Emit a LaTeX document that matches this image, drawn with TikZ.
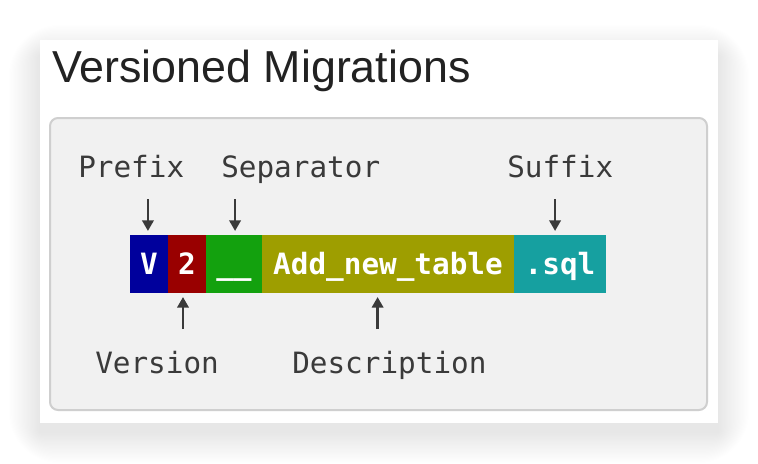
\documentclass[tikz,border=0pt]{standalone}
\usepackage{fontspec}
\setsansfont{Liberation Sans}
\setmonofont{DejaVu Sans Mono}
\usetikzlibrary{
  arrows.meta,
  positioning
}
\definecolor{migInk}{HTML}{3A3A3A}
\definecolor{migTitle}{HTML}{222222}
\definecolor{migPanel}{HTML}{F1F1F1}
\definecolor{migEdge}{HTML}{CFCFCF}
\definecolor{migBlue}{HTML}{00009C}
\definecolor{migRed}{HTML}{990000}
\definecolor{migGreen}{HTML}{13A10E}
\definecolor{migOlive}{HTML}{9E9E00}
\definecolor{migTeal}{HTML}{16A0A0}
\tikzset{
  every node/.style={font=\ttfamily\fontsize{22}{26}\selectfont, text=migInk},
  part/.style={
    minimum height=43.5pt,
    text height=16pt,
    text depth=0pt,
    inner sep=0pt,
    outer sep=0pt,
    text=white,
    font=\ttfamily\bfseries\fontsize{22}{26}\selectfont
  },
  tag/.style={anchor=base west, inner sep=0pt},
  pointer/.style={
    -{Triangle[length=8pt,width=8.5pt]},
    line width=2pt,
    draw=migInk
  }
}

\begin{document}
\begin{tikzpicture}[x=0.75pt,y=-0.75pt]
  \useasboundingbox (0,0) rectangle (758,464);

  % soft shadow under the card
  \foreach \k in {1,...,24}{
    \fill[black, opacity=0.005, rounded corners={1.6*\k}]
      ({40-1.3*\k},{56-1.3*\k}) rectangle ({718+1.3*\k},{432+1.3*\k});
  }
  \fill[white] (40,40) rectangle (718,423);

  \node[tag, font=\sffamily\fontsize{33.6}{40}\selectfont, text=migTitle]
    (title) at (52,82) {Versioned Migrations};

  \draw[migEdge, fill=migPanel, line width=1.5pt, rounded corners=6pt]
    (50,118) rectangle (707,410);

  % the file name, piece by piece
  \node[part, fill=migBlue, minimum width=28.5pt, anchor=north west] (pfx) at (130,235) {V};
  \node[part, fill=migRed, minimum width=28.5pt, right=0pt of pfx] (ver) {2};
  \node[part, fill=migGreen, minimum width=42pt, right=0pt of ver] (sep) {\_\_};
  \node[part, fill=migOlive, minimum width=189pt, right=0pt of sep] (desc) {Add\_new\_table};
  \node[part, fill=migTeal, minimum width=69pt, right=0pt of desc] (sfx) {.sql};

  \node[tag] (pfxlabel) at (78,177) {Prefix};
  \node[tag] (seplabel) at (221,177) {Separator};
  \node[tag] (sfxlabel) at (507,177) {Suffix};
  \node[tag] (verlabel) at (95,373) {Version};
  \node[tag] (desclabel) at (292,373) {Description};

  \draw[pointer] ([xshift=-0.8pt,yshift=27pt]pfx.north) -- ([xshift=-0.8pt,yshift=3pt]pfx.north);
  \draw[pointer] ([xshift=0.8pt,yshift=27pt]sep.north) -- ([xshift=0.8pt,yshift=3pt]sep.north);
  \draw[pointer] ([xshift=-3.7pt,yshift=27pt]sfx.north) -- ([xshift=-3.7pt,yshift=3pt]sfx.north);
  \draw[pointer] ([xshift=-3pt,yshift=-27pt]ver.south) -- ([xshift=-3pt,yshift=-3pt]ver.south);
  \draw[pointer] ([xshift=-7.8pt,yshift=-27pt]desc.south) -- ([xshift=-7.8pt,yshift=-3pt]desc.south);
\end{tikzpicture}
\end{document}
